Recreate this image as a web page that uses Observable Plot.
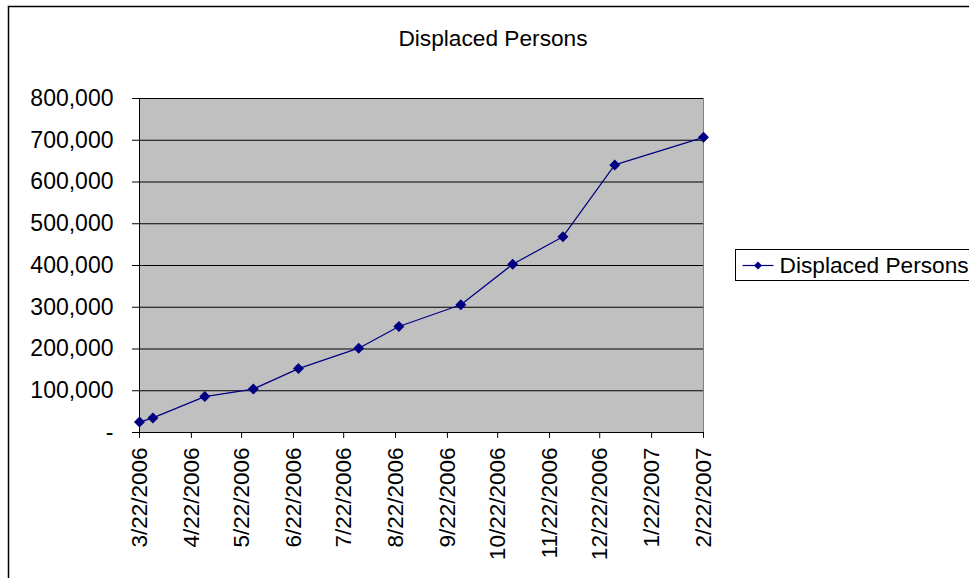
<!DOCTYPE html>
<html>
<head>
<meta charset="utf-8">
<script src="https://cdn.jsdelivr.net/npm/d3@7"></script>
<script src="https://cdn.jsdelivr.net/npm/@observablehq/plot@0.6"></script>
<style>
  html, body { margin: 0; padding: 0; background: #fff; }
  svg { display: block; }
</style>
</head>
<body>
<div id="chart"></div>
<script>
// Report dates and cumulative count of displaced persons
const dates = ["2006-03-22", "2006-03-30", "2006-04-30", "2006-05-29", "2006-06-25", "2006-07-31",
               "2006-08-24", "2006-09-30", "2006-10-31", "2006-11-30", "2006-12-31", "2007-02-22"];
const persons = [25000, 35000, 86000, 104000, 153000, 202000, 254000, 306000, 403000, 469000, 641000, 707000];

// Monthly axis ticks and value ticks
const xTicks = ["2006-03-22", "2006-04-22", "2006-05-22", "2006-06-22", "2006-07-22", "2006-08-22",
                "2006-09-22", "2006-10-22", "2006-11-22", "2006-12-22", "2007-01-22", "2007-02-22"];
const yTicks = [0, 100000, 200000, 300000, 400000, 500000, 600000, 700000, 800000];

const seriesName = "Displaced Persons";
const title = "Displaced Persons";

const parse = d3.utcParse("%Y-%m-%d");
const data = dates.map((d, i) => ({date: parse(d), value: persons[i]}));
const tickDates = xTicks.map(parse);

const fmtDate = d => `${d.getUTCMonth() + 1}/${d.getUTCDate()}/${d.getUTCFullYear()}`;
const fmtNum = v => v === 0 ? "-" : d3.format(",")(v);

const font = "'Liberation Sans', Arial, sans-serif";
const navy = "#000080";

const W = 969, H = 578;
const chart = Plot.plot({
  width: W,
  height: H,
  marginLeft: 139,
  marginRight: 266,
  marginTop: 98,
  marginBottom: 146,
  style: {fontFamily: font, fontSize: "23px", color: "#000", background: "#fff"},
  x: {type: "utc", domain: [tickDates[0], tickDates[tickDates.length - 1]]},
  y: {domain: [0, 800000]},
  marks: [
    Plot.frame({fill: "#c0c0c0", stroke: "#808080"}),
    Plot.ruleY(yTicks.filter(v => v > 0), {stroke: "#000", strokeWidth: 1}),
    Plot.ruleX([tickDates[0]], {stroke: "#000"}),
    Plot.ruleY([0], {stroke: "#000"}),
    Plot.axisY({ticks: yTicks, tickFormat: fmtNum, tickSize: 7, tickPadding: 19, label: null, fontSize: 23}),
    Plot.axisX({ticks: tickDates, tickFormat: fmtDate, tickSize: 6, tickPadding: 9, tickRotate: -90, label: null, fontSize: 22.5}),
    Plot.line(data, {x: "date", y: "value", stroke: navy, strokeWidth: 1.2}),
    Plot.dot(data, {x: "date", y: "value", symbol: "diamond2", r: 4, fill: navy, stroke: navy})
  ]
});

document.getElementById("chart").append(chart);

const svg = d3.select(chart);

// Title over the chart area
svg.append("text")
  .attr("x", 493).attr("y", 38).attr("dy", "0.35em")
  .attr("text-anchor", "middle")
  .attr("font-family", font).attr("font-size", 22.7).attr("fill", "#000")
  .text(title);

// Chart border
svg.append("rect")
  .attr("x", 8.5).attr("y", 6.5).attr("width", W + 20).attr("height", H + 20)
  .attr("fill", "none").attr("stroke", "#000").attr("stroke-width", 1.5);

// Legend
const lg = svg.append("g").attr("transform", "translate(735.5,249.5)");
lg.append("rect").attr("width", 260).attr("height", 31)
  .attr("fill", "#fff").attr("stroke", "#000");
lg.append("line").attr("x1", 7).attr("x2", 38).attr("y1", 16).attr("y2", 16)
  .attr("stroke", navy).attr("stroke-width", 1.2);
lg.append("path").attr("d", d3.symbol(d3.symbolDiamond2, 40)())
  .attr("transform", "translate(22.5,16)").attr("fill", navy);
lg.append("text").attr("x", 44).attr("y", 16).attr("dy", "0.35em")
  .attr("text-anchor", "start")
  .attr("font-family", font).attr("font-size", 22.7).attr("fill", "#000")
  .text(seriesName);
</script>
</body>
</html>
